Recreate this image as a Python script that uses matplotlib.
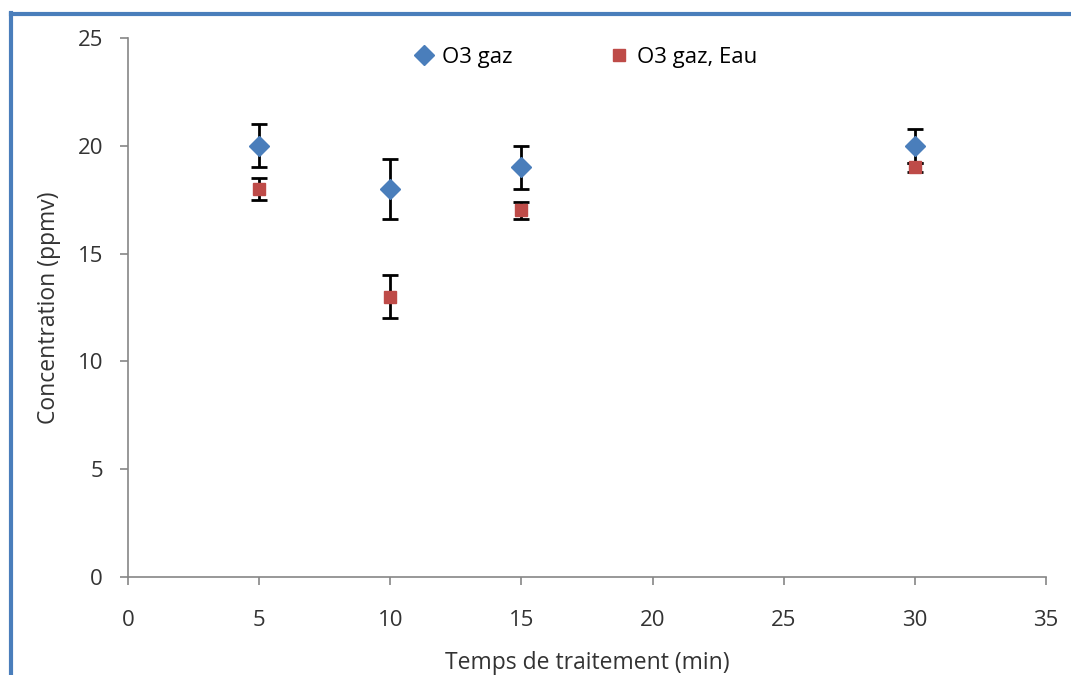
"""Concentration d'O3 en fonction du temps de traitement."""

import matplotlib
matplotlib.use("Agg")
import matplotlib.pyplot as plt
from matplotlib.lines import Line2D

plt.rcParams["font.family"] = ["Open Sans", "DejaVu Sans"]

# Data
temps = [5, 10, 15, 30]
o3_gaz = [20, 18, 19, 20]
o3_gaz_err = [1.0, 1.4, 1.0, 0.8]
o3_eau = [18, 13, 17, 19]
o3_eau_err = [0.5, 1.0, 0.4, 0.2]

x_ticks = [0, 5, 10, 15, 20, 25, 30, 35]
y_ticks = [0, 5, 10, 15, 20, 25]

BLUE = "#4A7EBB"
RED = "#BE4B48"
GREY = "#868686"
TEXT = "#333333"

fig = plt.figure(figsize=(10.71, 6.75), dpi=100)
ax = fig.add_axes([0.1195, 0.1452, 0.8572, 0.7985])

# error bars behind the markers
ax.errorbar(temps, o3_gaz, yerr=o3_gaz_err, fmt="none", ecolor="black",
            elinewidth=2, capsize=6, capthick=2, zorder=2)
ax.errorbar(temps, o3_eau, yerr=o3_eau_err, fmt="none", ecolor="black",
            elinewidth=2, capsize=6, capthick=2, zorder=2)
ax.plot(temps, o3_gaz, linestyle="none", marker="D", markersize=10,
        color=BLUE, label="O3 gaz", zorder=3)
ax.plot(temps, o3_eau, linestyle="none", marker="s", markersize=8,
        color=RED, label="O3 gaz, Eau", zorder=4)

ax.set_xlim(0, 35)
ax.set_ylim(0, 25)
ax.set_xticks(x_ticks)
ax.set_yticks(y_ticks)
ax.tick_params(axis="both", colors=GREY, labelcolor=TEXT,
               labelsize=16, length=6, width=1.2, direction="out")
ax.tick_params(axis="x", pad=18)
ax.tick_params(axis="y", pad=12)
for side in ("top", "right"):
    ax.spines[side].set_visible(False)
for side in ("left", "bottom"):
    ax.spines[side].set_color(GREY)
    ax.spines[side].set_linewidth(1.2)

ax.set_xlabel("Temps de traitement (min)", fontsize=16.5, color=TEXT,
              labelpad=14)
ax.set_ylabel("Concentration (ppmv)", fontsize=16.5, color=TEXT,
              labelpad=12)

ax.legend(loc="upper center", bbox_to_anchor=(0.497, 1.02), ncol=2,
          frameon=False, fontsize=16, handletextpad=0.2,
          columnspacing=4.2, handlelength=1.2)

# blue frame on the left and top edges
fig.add_artist(Line2D([0.0103, 0.0103], [0, 0.981], transform=fig.transFigure,
                      color=BLUE, linewidth=3))
fig.add_artist(Line2D([0.0103, 1.0], [0.979, 0.979], transform=fig.transFigure,
                      color=BLUE, linewidth=3))

fig.savefig("out.png", dpi=100)
plt.close(fig)
